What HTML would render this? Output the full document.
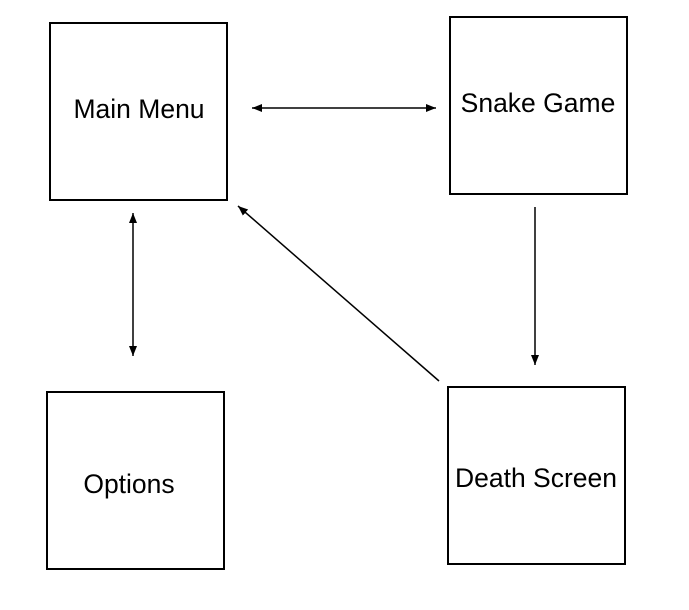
<!DOCTYPE html>
<html><head><style>html,body{margin:0;padding:0;background:#fff;}svg{display:block}</style></head>
<body>
<svg width="689" height="610" viewBox="0 0 689 610" xmlns="http://www.w3.org/2000/svg">
<defs>
<marker id="a" viewBox="0 0 10 10" refX="10" refY="5" markerWidth="10" markerHeight="10" markerUnits="userSpaceOnUse" orient="auto-start-reverse">
<path d="M0,1 L10,5 L0,9 z" fill="#000"/></marker>
</defs>
<g fill="none" stroke="#000" stroke-width="2">
<rect x="50" y="23" width="177" height="177"/>
<rect x="450" y="17" width="177" height="177"/>
<rect x="47" y="392" width="177" height="177"/>
<rect x="448" y="387" width="177" height="177"/>
</g>
<g stroke="#000" stroke-width="1.5" fill="none">
<line x1="252" y1="108" x2="436" y2="108" marker-start="url(#a)" marker-end="url(#a)"/>
<line x1="133" y1="213" x2="133" y2="356" marker-start="url(#a)" marker-end="url(#a)"/>
<line x1="535" y1="207" x2="535" y2="365" marker-end="url(#a)"/>
<line x1="439" y1="381" x2="238" y2="206" marker-end="url(#a)"/>
</g>
<g font-family="Liberation Sans, Arial, sans-serif" font-size="26.5" fill="#000">
<text x="139" y="118" text-anchor="middle">Main Menu</text>
<text x="538" y="112" text-anchor="middle">Snake Game</text>
<text x="129" y="493" text-anchor="middle">Options</text>
<text x="536" y="487" text-anchor="middle">Death Screen</text>
</g>
</svg>
</body></html>
